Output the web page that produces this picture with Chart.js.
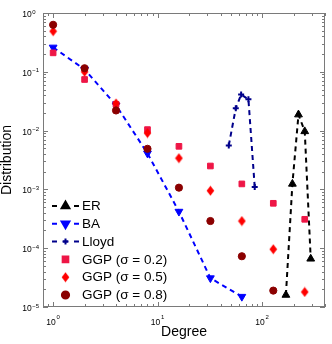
<!DOCTYPE html>
<html>
<head>
<meta charset="utf-8">
<script src="https://cdn.jsdelivr.net/npm/chart.js@4.4.0/dist/chart.umd.min.js"></script>
<style>
  html, body { margin: 0; padding: 0; background: #fff; }
</style>
</head>
<body>
<canvas id="degreeChart" width="332" height="344"></canvas>
<script>
// values
var seriesNames = ['ER', 'BA', 'Lloyd', 'GGP (σ = 0.2)', 'GGP (σ = 0.5)', 'GGP (σ = 0.8)'];
var erDegree = [169, 195, 223, 256, 292];
var erDist = [1.6e-5, 1.24e-3, 0.0187, 0.0097, 6.6e-5];
var baDegree = [1, 2, 4, 8, 16, 32, 64];
var baDist = [0.26, 0.11, 0.027, 0.0041, 4.2e-4, 3.1e-5, 1.5e-5];
var lloydDegree = [48, 56, 63, 74, 85];
var lloydDist = [0.0056, 0.024, 0.041, 0.034, 0.0011];
var ggpDegree = [1, 2, 4, 8, 16, 32, 64, 128, 256];
var ggp02Dist = [0.21, 0.074, 0.028, 0.0104, 0.0054, 0.0025, 0.00124, 5.8e-4, 3.1e-4];
var ggp05Dist = [0.49, 0.10, 0.029, 0.0091, 0.0034, 9.5e-4, 2.9e-4, 9.6e-5, 1.8e-5];
var ggp08Dist = [0.63, 0.115, 0.022, 0.0049, 1.07e-3, 2.9e-4, 7.3e-5, 1.9e-5];
var xTickExps = [0, 1, 2];
var yTickExps = [-5, -4, -3, -2, -1, 0];

var FONT = '"Liberation Sans", Arial, sans-serif';

function pts(xs, ys) {
    return ys.map(function (y, i) { return { x: xs[i], y: y }; });
}

// taller-than-wide diamond like the matlab marker
function makeDiamond(color) {
    var c = document.createElement('canvas');
    c.width = 9;
    c.height = 11;
    var g = c.getContext('2d');
    g.fillStyle = color;
    g.beginPath();
    g.moveTo(4.5, 0.5);
    g.lineTo(8.3, 5.5);
    g.lineTo(4.5, 10.5);
    g.lineTo(0.7, 5.5);
    g.closePath();
    g.fill();
    return c;
}

// frame, inward ticks and 10^n labels
var axesBox = {
    id: 'axesBox',
    beforeDatasetsDraw: function (chart) {
        var ctx = chart.ctx, a = chart.chartArea;
        var xs = chart.scales.x, ys = chart.scales.y;
        ctx.save();
        ctx.strokeStyle = '#7a7a7a';
        ctx.lineWidth = 1;
        ctx.strokeRect(Math.round(a.left) + 0.5, Math.round(a.top) + 0.5,
            Math.round(a.right - a.left) - 1, Math.round(a.bottom - a.top) - 1);
        ctx.beginPath();
        var e, m, v, p, len;
        for (e = -1; e <= 2; e++) {
            for (m = 1; m <= 9; m++) {
                v = m * Math.pow(10, e);
                if (v < xs.min || v > xs.max) continue;
                p = Math.round(xs.getPixelForValue(v)) + 0.5;
                len = m === 1 ? 5 : 3;
                ctx.moveTo(p, a.bottom); ctx.lineTo(p, a.bottom - len);
                ctx.moveTo(p, a.top); ctx.lineTo(p, a.top + len);
            }
        }
        for (e = -5; e <= 0; e++) {
            for (m = 1; m <= 9; m++) {
                v = m * Math.pow(10, e);
                if (v < ys.min || v > ys.max * 1.0001) continue;
                p = Math.round(ys.getPixelForValue(v)) + 0.5;
                len = m === 1 ? 5 : 3;
                ctx.moveTo(a.left, p); ctx.lineTo(a.left + len, p);
                ctx.moveTo(a.right, p); ctx.lineTo(a.right - len, p);
            }
        }
        ctx.stroke();

        ctx.fillStyle = '#000';
        ctx.textBaseline = 'alphabetic';
        var baseFont = '8.5px ' + FONT, expFont = '6px ' + FONT;
        yTickExps.forEach(function (n) {
            var py = ys.getPixelForValue(Math.pow(10, n));
            ctx.font = baseFont;
            ctx.textAlign = 'right';
            ctx.fillText('10', 31.7, py + 4);
            ctx.font = expFont;
            ctx.textAlign = 'left';
            ctx.fillText(n < 0 ? '\u2212' + (-n) : String(n), 32.3, py + 0.5);
        });
        xTickExps.forEach(function (n) {
            var px = xs.getPixelForValue(Math.pow(10, n));
            ctx.font = baseFont;
            var wb = ctx.measureText('10').width;
            ctx.font = expFont;
            var wt = String(n);
            var we = ctx.measureText(wt).width;
            var x0 = px - (wb + 0.8 + we) / 2;
            ctx.font = baseFont;
            ctx.textAlign = 'left';
            ctx.fillText('10', x0, a.bottom + 18);
            ctx.font = expFont;
            ctx.fillText(wt, x0 + wb + 0.8, a.bottom + 11.5);
        });
        ctx.restore();
    }
};

// legend inside the lower-left corner of the plot
var boxLegend = {
    id: 'boxLegend',
    afterDatasetsDraw: function (chart) {
        var ctx = chart.ctx;
        ctx.save();
        chart.data.datasets.forEach(function (ds, i) {
            var y = 206 + i * 17.8;
            if (ds.showLine) {
                ctx.strokeStyle = ds.borderColor;
                ctx.lineWidth = 2;
                ctx.setLineDash([5, 6]);
                ctx.beginPath();
                ctx.moveTo(52, y);
                ctx.lineTo(79, y);
                ctx.stroke();
            }
            ctx.setLineDash([]);
            ctx.fillStyle = ds.pointBackgroundColor;
            ctx.strokeStyle = ds.pointBorderColor;
            Chart.helpers.drawPoint(ctx, {
                pointStyle: ds.pointStyle,
                rotation: ds.pointRotation || 0,
                radius: ds.pointRadius,
                borderWidth: ds.pointBorderWidth
            }, 65.5, y);
            ctx.fillStyle = '#000';
            ctx.font = '13.5px ' + FONT;
            ctx.textAlign = 'left';
            ctx.textBaseline = 'middle';
            ctx.fillText(ds.label, 82, y + 0.5);
        });
        ctx.restore();
    }
};

function lineSet(label, data, color, style, radius, rot, order) {
    return {
        label: label,
        data: data,
        showLine: true,
        borderColor: color,
        borderWidth: 2,
        borderDash: [5, 4],
        pointStyle: style,
        pointRadius: radius,
        pointRotation: rot,
        pointBackgroundColor: color,
        pointBorderColor: color,
        pointBorderWidth: style === 'cross' ? 2 : 1,
        order: order
    };
}

function markSet(label, data, color, style, radius, order) {
    return {
        label: label,
        data: data,
        showLine: false,
        borderColor: color,
        pointStyle: style,
        pointRadius: radius,
        pointBackgroundColor: color,
        pointBorderColor: color,
        pointBorderWidth: 1,
        order: order
    };
}

var ctx = document.getElementById('degreeChart').getContext('2d');
var degreeChart = new Chart(ctx, {
    type: 'scatter',
    data: {
        datasets: [
            lineSet(seriesNames[0], pts(erDegree, erDist), '#000000', 'triangle', 4.5, 0, 6),
            lineSet(seriesNames[1], pts(baDegree, baDist), '#0000ff', 'triangle', 4.5, 180, 5),
            lineSet(seriesNames[2], pts(lloydDegree, lloydDist), '#00008b', 'cross', 3, 0, 4),
            markSet(seriesNames[3], pts(ggpDegree, ggp02Dist), '#ee1646', 'rect', 4, 3),
            markSet(seriesNames[4], pts(ggpDegree, ggp05Dist), '#ff0000', makeDiamond('#ff0000'), 4, 2),
            markSet(seriesNames[5], pts(ggpDegree, ggp08Dist), '#8b0000', 'circle', 3.6, 1)
        ]
    },
    plugins: [axesBox, boxLegend],
    options: {
        responsive: false,
        animation: false,
        events: [],
        layout: {
            padding: { top: 13, right: 7, left: 0, bottom: 0 }
        },
        plugins: {
            legend: { display: false },
            tooltip: { enabled: false }
        },
        scales: {
            x: {
                type: 'logarithmic',
                min: 0.8,
                max: 400,
                grid: { display: false },
                border: { display: false },
                ticks: { display: false },
                title: {
                    display: true,
                    text: 'Degree',
                    color: '#000',
                    font: { family: FONT, size: 14, lineHeight: 1 },
                    padding: { top: 0, bottom: 5 }
                },
                afterFit: function (scale) { scale.height = 37; }
            },
            y: {
                type: 'logarithmic',
                min: 1e-5,
                max: 1,
                grid: { display: false },
                border: { display: false },
                ticks: { display: false },
                title: {
                    display: true,
                    text: 'Distribution',
                    color: '#000',
                    font: { family: FONT, size: 14, lineHeight: 1 },
                    padding: { top: 0, bottom: 0 }
                },
                afterFit: function (scale) { scale.width = 43; }
            }
        }
    }
});
</script>
</body>
</html>
